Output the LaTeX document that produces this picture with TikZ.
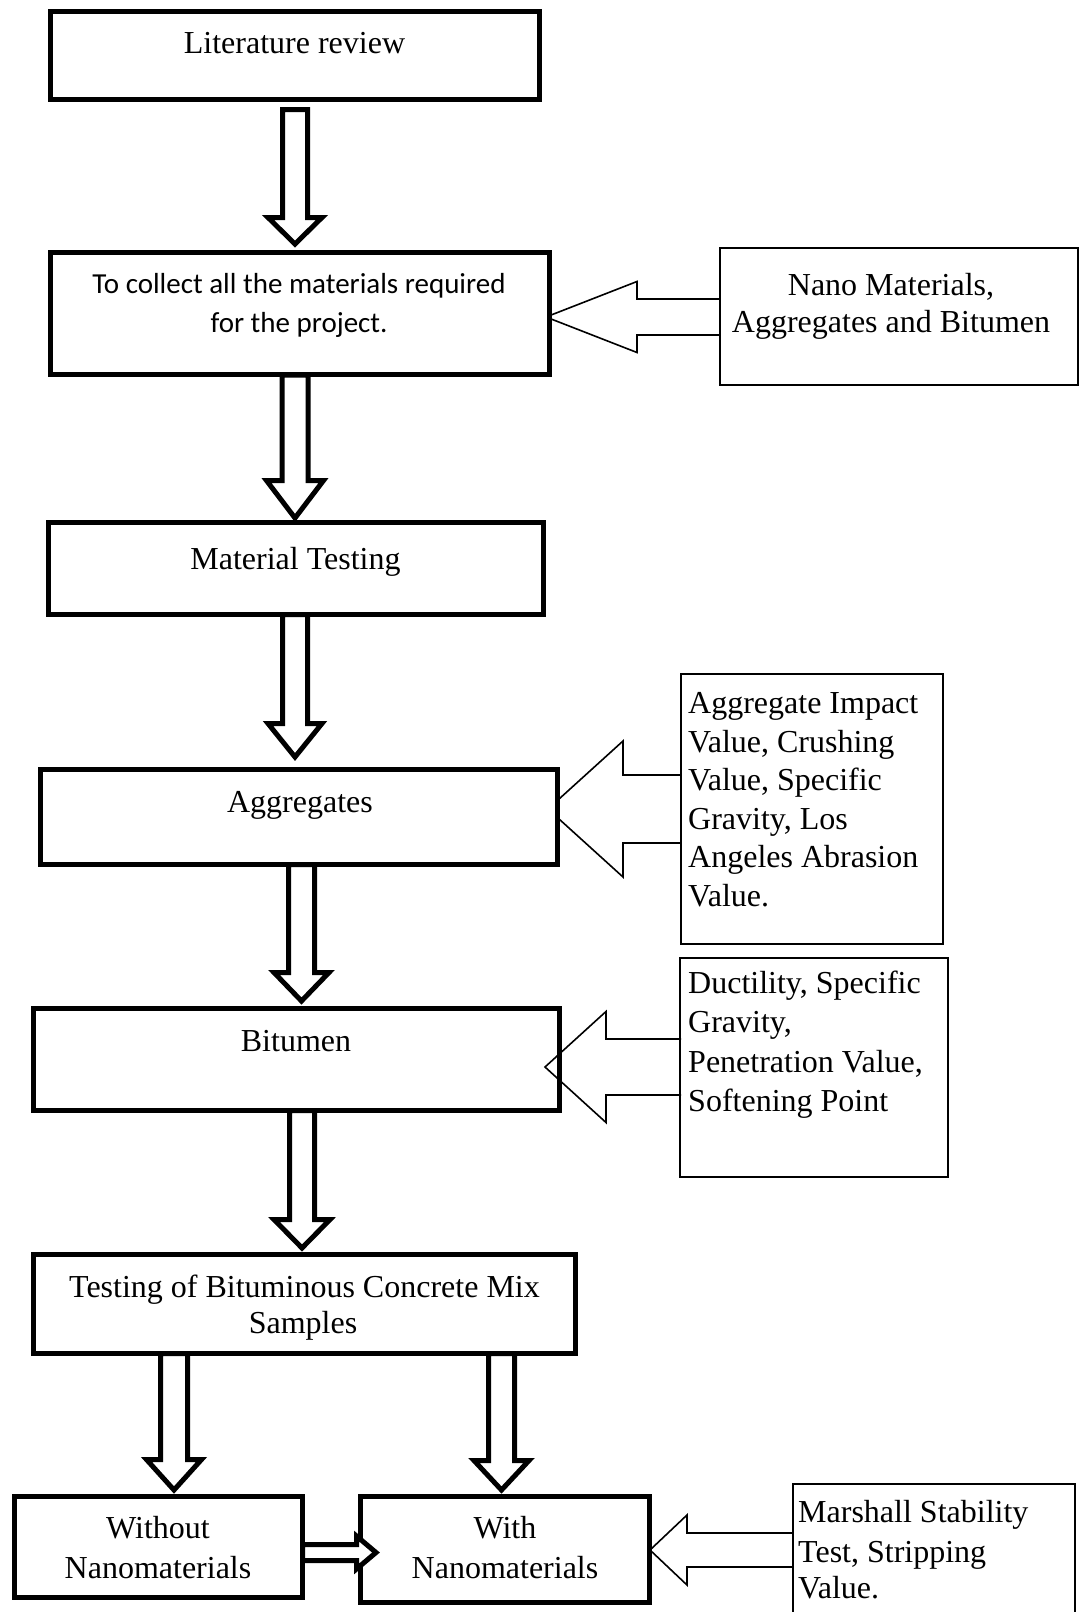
\documentclass[tikz,border=0pt]{standalone}
\usepackage{fontspec}
\setmainfont{Liberation Serif}
\newfontfamily\calib{Carlito}
\newcommand{\dnarrow}[6]{% cx, ytop, ybase, ytip, shaft half, head half
  \draw[fatarrow] (#1-#5,#2) -- (#1-#5,#3) -- (#1-#6,#3) -- (#1,#4) -- (#1+#6,#3) -- (#1+#5,#3) -- (#1+#5,#2) -- cycle;}
\newcommand{\lfarrow}[7][]{% tipx, cy, headbasex, endx, shaft half, head half
  \draw[thinarrow,#1] (#5,#3-#6) -- (#4,#3-#6) -- (#4,#3-#7) -- (#2,#3) -- (#4,#3+#7) -- (#4,#3+#6) -- (#5,#3+#6);}
\tikzset{
  mainbox/.style={draw, line width=5pt, fill=white, inner sep=0pt},
  thinbox/.style={draw, line width=2pt, fill=white, inner sep=0pt},
  fatarrow/.style={draw, line width=5pt, fill=white, line join=miter},
  thinarrow/.style={draw, line width=1.6pt, fill=white, line join=miter},
  serif/.style={font=\fontsize{32}{39}\selectfont, inner sep=0pt},
  cal/.style={font=\calib\fontsize{29}{39}\selectfont, inner sep=0pt},
}
\begin{document}
\begin{tikzpicture}[x=1pt,y=-1pt]
\useasboundingbox (0,0) rectangle (1083,1612);
\clip (0,0) rectangle (1083,1612);

% down block arrows
\dnarrow{295}{109.5}{217.5}{244}{12.5}{27}
\dnarrow{295}{375}{480.5}{518}{13}{28.5}
\dnarrow{295}{614.5}{723.5}{757}{12.5}{27}
\dnarrow{301.5}{864.5}{972.5}{1001}{13}{27.5}
\dnarrow{302}{1110.5}{1219.5}{1248}{12.5}{28}
\dnarrow{174}{1353.5}{1459.5}{1490}{13.5}{27.5}
\dnarrow{501.5}{1353.5}{1460.5}{1490}{13}{27.5}

% left-pointing thin block arrows (tips hidden behind boxes)
\lfarrow{546}{317}{637}{719.5}{18}{35.5}
\lfarrow{548}{809}{623}{681}{34}{68}
\lfarrow{650}{1550}{687}{793}{17}{35}

% main boxes
\node[mainbox, minimum width=489.5pt, minimum height=88pt] (b1) at (294.75,55) {};
\node[mainbox, minimum width=499.5pt, minimum height=122pt] (b2) at (299.75,313.5) {};
\node[mainbox, minimum width=495pt, minimum height=92pt] (b3) at (296,568.5) {};
\node[mainbox, minimum width=517pt, minimum height=95pt] (b4) at (299,817) {};
\node[mainbox, minimum width=526pt, minimum height=102pt] (b5) at (296.5,1059.5) {};
\node[mainbox, minimum width=542pt, minimum height=99pt] (b6) at (304.5,1304) {};
\node[mainbox, minimum width=288pt, minimum height=101pt] (b7) at (158.5,1547) {};
\node[mainbox, minimum width=289pt, minimum height=106pt] (b8) at (505,1549.5) {};

% side boxes
\node[thinbox, minimum width=358.5pt, minimum height=137pt] (s1) at (898.75,316.5) {};
\node[thinbox, minimum width=262pt, minimum height=270pt] (s2) at (812,809) {};
\node[thinbox, minimum width=268pt, minimum height=219pt] (s3) at (814,1067.5) {};
\node[thinbox, minimum width=282pt, minimum height=156pt] (s4) at (934,1562) {};

% bitumen arrow drawn over its box
\lfarrow[fill=none]{545}{1067}{606}{681}{28}{55.5}

% horizontal arrow between bottom boxes
\draw[fatarrow] (302.5,1544.5) -- (356.5,1544.5) -- (356.5,1536) -- (376,1552.5) -- (356.5,1569) -- (356.5,1560.5) -- (302.5,1560.5) -- cycle;

% texts
\node[serif, anchor=base] (t1) at (294.5,53) {Literature review};
\node[cal, anchor=base] (t2a) at (299,293) {To collect all the materials required};
\node[cal, anchor=base] (t2b) at (299,332) {for the project.};
\node[serif, anchor=base] (t3) at (295.5,569) {Material Testing};
\node[serif, anchor=base] (t4) at (300,812) {Aggregates};
\node[serif, anchor=base] (t5) at (296,1051) {Bitumen};
\node[serif, anchor=base] (t6a) at (304.5,1297) {Testing of Bituminous Concrete Mix};
\node[serif, anchor=base] (t6b) at (303,1333) {Samples};
\node[serif, anchor=base] (t7a) at (158,1538) {Without};
\node[serif, anchor=base] (t7b) at (158,1578) {Nanomaterials};
\node[serif, anchor=base] (t8a) at (505,1538) {With};
\node[serif, anchor=base] (t8b) at (505,1578) {Nanomaterials};

\node[serif, anchor=base] (u1a) at (891,295) {Nano Materials,};
\node[serif, anchor=base] (u1b) at (891,332) {Aggregates and Bitumen};

\node[serif, anchor=base west] (u2a) at (688,713) {Aggregate Impact};
\node[serif, anchor=base west] (u2b) at (688,752) {Value, Crushing};
\node[serif, anchor=base west] (u2c) at (688,790) {Value, Specific};
\node[serif, anchor=base west] (u2d) at (688,829) {Gravity, Los};
\node[serif, anchor=base west] (u2e) at (688,867) {Angeles Abrasion};
\node[serif, anchor=base west] (u2f) at (688,906) {Value.};

\node[serif, anchor=base west] (u3a) at (688,993) {Ductility, Specific};
\node[serif, anchor=base west] (u3b) at (688,1032) {Gravity,};
\node[serif, anchor=base west] (u3c) at (688,1072) {Penetration Value,};
\node[serif, anchor=base west] (u3d) at (688,1111) {Softening Point};

\node[serif, anchor=base west] (u4a) at (798,1522) {Marshall Stability};
\node[serif, anchor=base west] (u4b) at (798,1562) {Test, Stripping};
\node[serif, anchor=base west] (u4c) at (798,1598) {Value.};
\end{tikzpicture}
\end{document}
